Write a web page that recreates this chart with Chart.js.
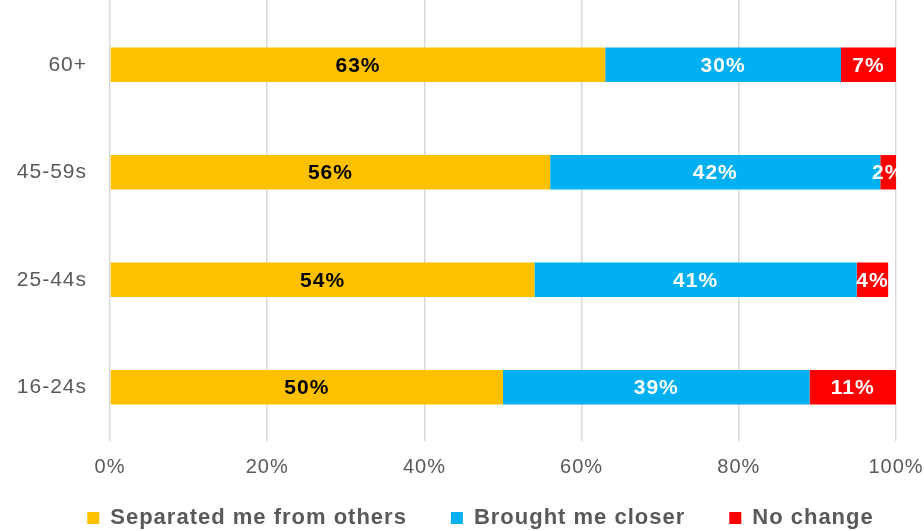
<!DOCTYPE html>
<html>
<head>
<meta charset="utf-8">
<script src="https://cdn.jsdelivr.net/npm/chart.js@4"></script>
<style>
    body { margin: 0; background: #fff; }
    #wrap { width: 924px; height: 531px; }
</style>
</head>
<body>
<div id="wrap"><canvas id="ageChart" width="924" height="531"></canvas></div>
<script>
const ageGroups = ['60+', '45-59s', '25-44s', '16-24s'];
const separated = [63, 56, 54, 50];
const closer = [30, 42, 41, 39];
const noChange = [7, 2, 4, 11];
const xTicks = [0, 20, 40, 60, 80, 100];

const greyText = '#595959';
const fontFamily = '"Liberation Sans", Arial, sans-serif';
const gridWidth = 1.5;

// Slightly wider lettering for all chart text
const wideText = {
    id: 'wideText',
    beforeLayout(chart) { chart.ctx.letterSpacing = '1px'; },
    beforeDraw(chart) { chart.ctx.letterSpacing = '1px'; }
};

// Pull the legend up close under the axis labels
const legendPlacement = {
    id: 'legendPlacement',
    afterLayout(chart) {
        const lg = chart.legend;
        lg.top = 518 - lg.options.labels.padding - 11;
        lg.left += 10;
        lg.right += 10;
    }
};

// Carry the vertical grid lines up to the top edge of the canvas
const gridToTop = {
    id: 'gridToTop',
    beforeDatasetsDraw(chart) {
        const ctx = chart.ctx;
        const x = chart.scales.x;
        const half = gridWidth / 2;
        ctx.save();
        ctx.strokeStyle = '#d9d9d9';
        ctx.lineWidth = gridWidth;
        xTicks.forEach(v => {
            // same pixel snapping the scale uses for its own grid lines
            const px = Math.round(x.getPixelForValue(v) - half) + half;
            ctx.beginPath();
            ctx.moveTo(px, 0);
            ctx.lineTo(px, chart.chartArea.top);
            ctx.stroke();
        });
        ctx.restore();
    }
};

// Percent labels in the middle of every bar segment
const segmentLabels = {
    id: 'segmentLabels',
    afterDatasetsDraw(chart) {
        const ctx = chart.ctx;
        ctx.save();
        ctx.font = 'bold 21px ' + fontFamily;
        ctx.textAlign = 'center';
        ctx.textBaseline = 'middle';
        chart.data.datasets.forEach((ds, i) => {
            chart.getDatasetMeta(i).data.forEach((bar, j) => {
                const x = (bar.x + bar.base) / 2;
                ctx.fillStyle = ds.labelColor;
                ctx.fillText(ds.data[j] + '%', x, bar.y + 1);
            });
        });
        ctx.restore();
    }
};

new Chart(document.getElementById('ageChart'), {
    type: 'bar',
    data: {
        labels: ageGroups,
        datasets: [
            { label: 'Separated me from others', data: separated, backgroundColor: '#FFC000', labelColor: '#000' },
            { label: 'Brought me closer', data: closer, backgroundColor: '#00B0F0', labelColor: '#fff' },
            { label: 'No change', data: noChange, backgroundColor: '#FF0000', labelColor: '#fff' }
        ]
    },
    options: {
        indexAxis: 'y',
        responsive: false,
        animation: false,
        barPercentage: 0.32,
        categoryPercentage: 1,
        layout: { padding: { top: 11, right: 0, left: 17, bottom: -24 } },
        plugins: {
            legend: {
                position: 'bottom',
                labels: {
                    boxWidth: 12,
                    boxHeight: 12,
                    padding: 44,
                    color: greyText,
                    font: { size: 22, weight: 'bold', family: fontFamily }
                }
            },
            tooltip: { enabled: false }
        },
        scales: {
            x: {
                stacked: true,
                min: 0,
                max: 100,
                afterBuildTicks: axis => { axis.ticks = xTicks.map(v => ({ value: v })); },
                afterFit: axis => {
                    axis.height = 38;
                    axis.paddingLeft = 0;
                    axis.paddingRight = 28;
                },
                grid: { color: '#d9d9d9', lineWidth: gridWidth, drawTicks: false },
                border: { display: false },
                ticks: {
                    padding: 14,
                    color: greyText,
                    font: { size: 20, family: fontFamily },
                    callback: v => v + '%'
                }
            },
            y: {
                stacked: true,
                afterFit: axis => {
                    axis.width = 93;
                    axis.paddingTop = 0;
                    axis.paddingBottom = 0;
                },
                grid: { display: false, drawTicks: false },
                border: { display: false },
                ticks: {
                    padding: 23,
                    color: greyText,
                    font: { size: 21, family: fontFamily }
                }
            }
        }
    },
    plugins: [wideText, legendPlacement, gridToTop, segmentLabels]
});
</script>
</body>
</html>
